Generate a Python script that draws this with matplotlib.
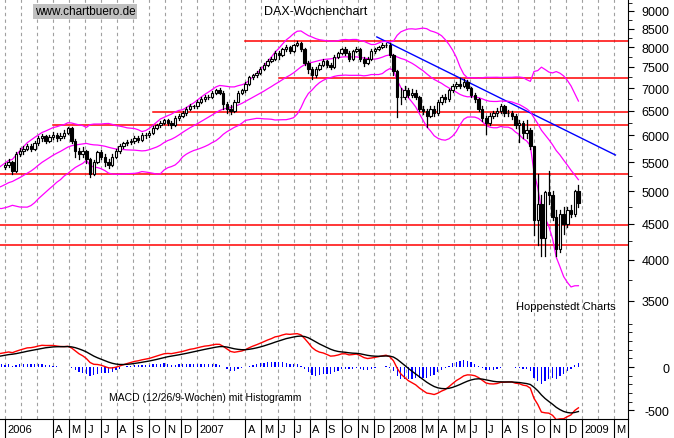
import numpy as np
import pandas as pd
import matplotlib
matplotlib.use("Agg")
import matplotlib.pyplot as plt
from matplotlib.ticker import FixedLocator, NullFormatter

plt.rcParams['font.family'] = ['Liberation Sans', 'DejaVu Sans']

# weekly closes, second half 2005 (only used to warm up the indicators)
closes_2005 = [4600, 4650, 4750, 4880, 4900, 4950, 4850, 4850, 4950, 5000, 5050, 5000, 5050,
               5000, 4900, 4850, 4950, 5050, 5100, 5150, 5200, 5300, 5250, 5350, 5400, 5408]

closes_2006 = [5450, 5500, 5350, 5650, 5700, 5750, 5800, 5750, 5850, 5950, 5980, 5900, 5970,
               6000, 5950, 5990, 6050, 6150, 5900, 5700, 5650, 5700, 5550, 5300, 5500, 5680,
               5600, 5500, 5450, 5600, 5700, 5800, 5850, 5870, 5900, 5950, 5920, 6000, 6000,
               6050, 6150, 6200, 6250, 6300, 6250, 6200, 6350, 6400, 6450, 6550, 6600, 6596]
highs_2006 = [5490, 5560, 5530, 5680, 5760, 5790, 5840, 5830, 5890, 5990, 6030, 6010, 6010,
              6070, 6040, 6050, 6100, 6170, 6160, 5940, 5760, 5780, 5730, 5580, 5540, 5700,
              5720, 5650, 5560, 5640, 5740, 5830, 5880, 5910, 5940, 5980, 5990, 6040, 6050,
              6090, 6180, 6230, 6290, 6340, 6330, 6290, 6390, 6440, 6490, 6580, 6640, 6630]
lows_2006 = [5380, 5420, 5290, 5330, 5620, 5640, 5720, 5700, 5720, 5810, 5900, 5860, 5870,
             5940, 5900, 5910, 5960, 6020, 5860, 5600, 5560, 5600, 5480, 5240, 5280, 5480,
             5560, 5440, 5400, 5430, 5580, 5670, 5760, 5820, 5830, 5860, 5880, 5900, 5960,
             5970, 6030, 6120, 6170, 6220, 6200, 6150, 6180, 6320, 6370, 6420, 6520, 6560]

closes_2007 = [6700, 6750, 6800, 6800, 6900, 6950, 6900, 6650, 6550, 6500, 6700, 6900, 6950,
               7100, 7250, 7300, 7350, 7450, 7550, 7650, 7700, 7850, 7800, 7950, 8000, 7900,
               8050, 8100, 7950, 7600, 7450, 7300, 7450, 7550, 7650, 7550, 7500, 7750, 7850,
               7950, 7850, 7700, 7900, 7950, 7700, 7600, 7700, 7900, 7950, 8000, 8050, 8067]
highs_2007 = [6730, 6790, 6840, 6850, 6940, 6990, 7000, 6930, 6700, 6620, 6740, 6930, 6990,
              7130, 7280, 7340, 7400, 7490, 7590, 7690, 7750, 7890, 7900, 7990, 8050, 8040,
              8090, 8150, 8130, 7980, 7650, 7500, 7500, 7590, 7690, 7680, 7600, 7790, 7880,
              7990, 8000, 7890, 7930, 8000, 7980, 7750, 7740, 7940, 7990, 8040, 8100, 8100]
lows_2007 = [6570, 6660, 6710, 6760, 6770, 6870, 6860, 6550, 6450, 6430, 6480, 6680, 6870,
             6920, 7080, 7210, 7260, 7320, 7420, 7520, 7610, 7670, 7700, 7770, 7910, 7850,
             7870, 8020, 7900, 7550, 7350, 7200, 7270, 7420, 7520, 7500, 7450, 7480, 7720,
             7820, 7800, 7650, 7680, 7870, 7650, 7520, 7560, 7680, 7860, 7920, 7970, 8000]

closes_2008 = [7800, 7400, 6800, 6800, 6950, 6850, 6900, 6800, 6550, 6500, 6400, 6550, 6450,
               6700, 6800, 6750, 6950, 7050, 7100, 7050, 7150, 7000, 6850, 6750, 6550, 6350,
               6250, 6400, 6450, 6500, 6600, 6450, 6450, 6400, 6200, 6250, 6050, 6100, 5800,
               4550, 4800, 4300, 4990, 4950, 4600, 4150, 4650, 4500, 4700, 4650, 5000, 4810]
highs_2008 = [8100, 7830, 7420, 7000, 7050, 7000, 6980, 6950, 6830, 6600, 6550, 6600, 6600,
              6740, 6850, 6860, 6990, 7090, 7150, 7230, 7200, 7180, 7030, 6900, 6780, 6600,
              6400, 6450, 6500, 6560, 6650, 6620, 6520, 6500, 6430, 6300, 6280, 6300, 6150,
              5800, 5300, 4950, 5000, 5350, 5000, 4700, 4700, 4750, 4760, 4780, 5020, 5100]
lows_2008 = [7750, 7300, 6380, 6650, 6750, 6800, 6800, 6750, 6500, 6430, 6170, 6380, 6400,
             6420, 6650, 6700, 6720, 6920, 7000, 7000, 7020, 6960, 6800, 6700, 6500, 6280,
             6020, 6200, 6350, 6400, 6450, 6400, 6390, 6330, 6150, 5880, 5950, 5950, 5750,
             4340, 4200, 4050, 4050, 4800, 4550, 4050, 4100, 4350, 4450, 4600, 4620, 4750]

resistance_levels = [8150, 7230, 6480, 6200, 5300, 4480, 4200]
resistance_start_week = [65, 74, 40, 13, -2, -2, -2]
trend_weeks = [100.5, 165.0]
trend_values = [8270, 5630]

month_labels = ['2006', 'F', 'M', 'A', 'M', 'J', 'J', 'A', 'S', 'O', 'N', 'D',
                '2007', 'F', 'M', 'A', 'M', 'J', 'J', 'A', 'S', 'O', 'N', 'D',
                '2008', 'F', 'M', 'A', 'M', 'J', 'J', 'A', 'S', 'O', 'N', 'D',
                '2009', 'F', 'M']
# month slots without a label in the strip (crowded by the year labels)
hidden_slots = [1, 2, 13, 14, 25, 37]

# ---- indicators ----
all_close = pd.Series(closes_2005 + closes_2006 + closes_2007 + closes_2008, dtype=float)
n_warm = len(closes_2005)
x_all = np.arange(len(all_close)) - n_warm
mid = all_close.rolling(20).mean()
sd = all_close.rolling(20).std(ddof=0)
upper, lower = mid + 2 * sd, mid - 2 * sd
macd = all_close.ewm(span=12, adjust=False).mean() - all_close.ewm(span=26, adjust=False).mean()
signal = macd.ewm(span=9, adjust=False).mean()
hist = macd - signal

closes = np.array(closes_2006 + closes_2007 + closes_2008, dtype=float)
highs = np.array(highs_2006 + highs_2007 + highs_2008, dtype=float)
lows = np.array(lows_2006 + lows_2007 + lows_2008, dtype=float)
opens = np.concatenate([[closes_2005[-1]], closes[:-1]])
wk = np.arange(len(closes))

W, H = 674, 439
fig = plt.figure(figsize=(W / 100, H / 100), dpi=100)
xmin, xmax = -1.35, 168.4
ax = fig.add_axes([0, (H - 330) / H, 628 / W, 330 / H])
ax2 = fig.add_axes([0, 19 / H, 628 / W, 91 / H])
ax3 = fig.add_axes([0, 0, 628 / W, 19 / H])

month_pos = np.arange(len(month_labels)) * 52 / 12

for a in (ax, ax2):
    a.set_xlim(xmin, xmax)
    for m in month_pos:
        a.axvline(m, color='#a0a0a0', lw=0.8, ls=(0, (3, 3)), zorder=0)
    for s in ('left', 'top', 'bottom'):
        a.spines[s].set_visible(False)
    a.set_xticks([])
    a.yaxis.tick_right()
    a.tick_params(axis='y', labelsize=9, length=4, direction='out', pad=26)
    a.tick_params(axis='y', which='minor', length=3)

# ---- main panel ----
ax.set_yscale('log')
ax.set_ylim(3195, 9357)
ticks = list(range(3500, 9001, 500))
ax.yaxis.set_major_locator(FixedLocator(ticks))
ax.yaxis.set_minor_locator(FixedLocator(np.arange(3250, 9300, 250)))
ax.yaxis.set_minor_formatter(NullFormatter())
ax.set_yticklabels([str(v) for v in ticks])
for t in ax.get_yticklabels():
    t.set_horizontalalignment('right')

for lvl, st in zip(resistance_levels, resistance_start_week):
    ax.plot([st, xmax], [lvl, lvl], color='#ff0000', lw=1.1, zorder=2)
ax.plot(trend_weeks, trend_values, color='#0000ff', lw=1, zorder=2)

vis = x_all >= -2
for band in (upper, mid, lower):
    ax.plot(x_all[vis], band[vis], color='#ff00ff', lw=0.9, zorder=3)

bw = 0.65
for i in wk:
    o, c = opens[i], closes[i]
    ax.plot([i, i], [lows[i], highs[i]], color='black', lw=0.9, zorder=4)
    bottom, top = min(o, c), max(o, c)
    if top - bottom < 8:
        top = bottom + 8
    ax.bar(i, top - bottom, bottom=bottom, width=bw, color='black' if c < o else 'white',
           edgecolor='black', linewidth=0.8, zorder=5)

ax.text(8, 8990, 'www.chartbuero.de', fontsize=8.5, va='center',
        bbox=dict(facecolor='#c0c0c0', edgecolor='none', pad=1))
ax.text(70, 9000, 'DAX-Wochenchart', fontsize=9, va='center')
ax.text(138, 3440, 'Hoppenstedt Charts', fontsize=8, va='center')

# ---- MACD panel ----
ax2.set_ylim(-598, 451)
ax2.bar(x_all[vis], hist[vis], width=0.35, color='#0000ff', zorder=2)
ax2.plot(x_all[vis], macd[vis], color='#ff0000', lw=1, zorder=3)
ax2.plot(x_all[vis], signal[vis], color='black', lw=1, zorder=4)
ax2.yaxis.set_major_locator(FixedLocator([-500, 0]))
ax2.yaxis.set_minor_locator(FixedLocator(np.arange(-600, 451, 100)))
ax2.set_yticklabels(['-500', '0'])
for t in ax2.get_yticklabels():
    t.set_horizontalalignment('right')
ax2.text(28, -350, 'MACD (12/26/9-Wochen) mit Histogramm', fontsize=7.5, va='center')

# ---- month strip ----
ax3.set_xlim(xmin, xmax)
ax3.set_ylim(0, 1)
ax3.set_xticks([])
ax3.set_yticks([])
for s in ('left', 'bottom'):
    ax3.spines[s].set_visible(False)
for i, lab in enumerate(month_labels):
    if i in hidden_slots:
        continue
    ax3.plot([month_pos[i], month_pos[i]], [0, 1], color='black', lw=0.8)
    ax3.text(month_pos[i] + 0.6, 0.45, lab, fontsize=8, va='center', ha='left')

fig.savefig('out.png', dpi=100)
